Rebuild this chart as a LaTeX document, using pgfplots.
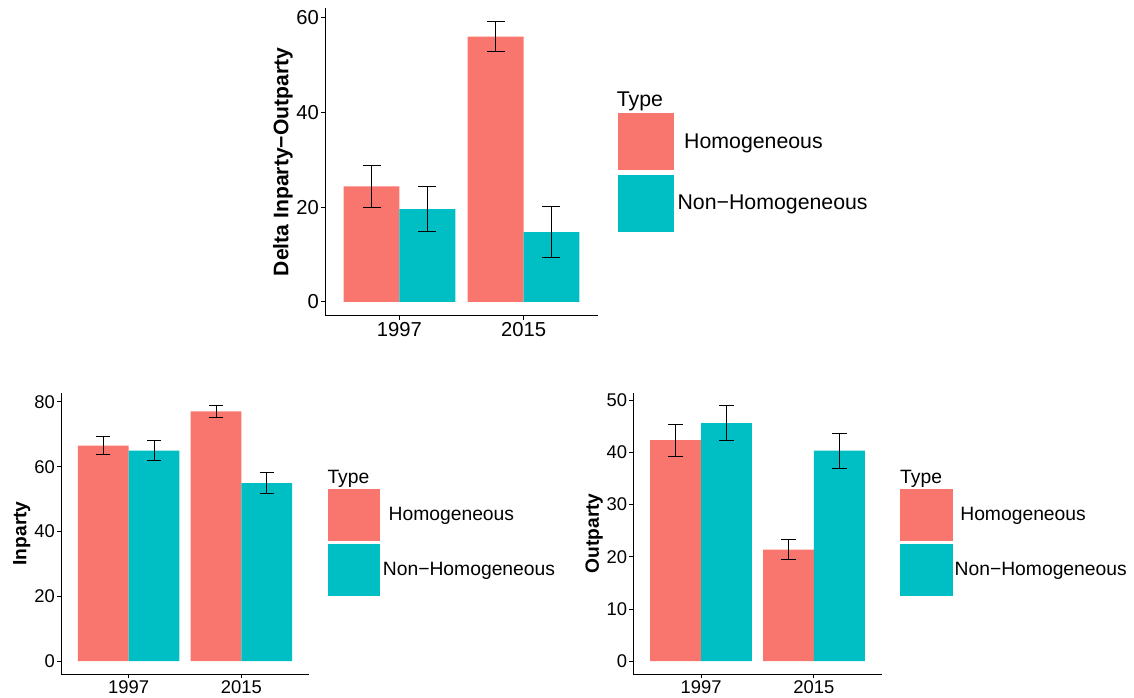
\documentclass[border=0pt]{standalone}
\usepackage{fontspec}
\setmainfont{Liberation Sans}
\usepackage{pgfplots}
\pgfplotsset{compat=1.18}
\definecolor{hom}{HTML}{F8766D}
\definecolor{non}{HTML}{00BFC4}
\pgfplotsset{
  gg/.style={
    scale only axis,
    axis x line*=bottom, axis y line*=left,
    axis line style={-, line width=1bp, black},
    xmin=0.4, xmax=2.6,
    xtick={1,2}, xticklabels={1997,2015},
    tick align=outside,
    major tick length=4bp,
    tick style={line width=1bp, black},
    clip=false,
    /pgf/number format/assume math mode=true,
    legend cell align=left,
  },
}
\begin{document}
\begin{tikzpicture}
\useasboundingbox (0,0) rectangle (1134bp,698bp);
% ---------------- top panel
\begin{axis}[gg,
  at={(325bp,382bp)}, anchor=south west,
  width=273bp, height=308bp,
  ymin=-2.96, ymax=62.1, ytick={0,20,40,60},
  ticklabel style={font=\fontsize{20.2bp}{24bp}\selectfont, inner sep=2bp},
  ylabel={Delta Inparty−Outparty},
  ylabel style={font=\bfseries\fontsize{21.1bp}{25bp}\selectfont, at={(axis description cs:-0.154,0.5)}, anchor=center},
  legend style={at={(axis description cs:1.0722,0.6581)}, anchor=north west, draw=none, fill=none,
    inner sep=0pt, row sep=4.7bp, nodes={inner sep=0pt}, font=\fontsize{21.3bp}{25bp}\selectfont},
]
\addplot[ybar, bar width=0.45, bar shift=0pt, fill=hom, draw=none,
  legend image code/.code={\fill[hom] (0bp,-28.35bp) rectangle (56.3bp,28.35bp);},
  error bars/.cd, y dir=both, y explicit,
  error bar style={line width=1bp, black},
  error mark options={rotate=90, line width=1bp, black, mark size=9bp}]
  coordinates {(0.775,24.4) +- (0,4.35) (1.775,56.05) +- (0,3.1)};
\addlegendentry{\hspace*{10bp}Homogeneous}
\addplot[ybar, bar width=0.45, bar shift=0pt, fill=non, draw=none,
  legend image code/.code={\fill[non] (0bp,-28.35bp) rectangle (56.3bp,28.35bp);},
  error bars/.cd, y dir=both, y explicit,
  error bar style={line width=1bp, black},
  error mark options={rotate=90, line width=1bp, black, mark size=9bp}]
  coordinates {(1.225,19.6) +- (0,4.73) (2.225,14.75) +- (0,5.35)};
\addlegendentry{\hspace*{3.4bp}Non−Homogeneous}
\end{axis}
\node[anchor=base west, inner sep=0pt, font=\fontsize{21.3bp}{25bp}\selectfont] at (616.7bp,591bp) {Type};
% ---------------- bottom left
\begin{axis}[gg,
  at={(61bp,24bp)}, anchor=south west,
  width=248bp, height=281.3bp,
  ymin=-3.95, ymax=82.85, ytick={0,20,40,60,80},
  ticklabel style={font=\fontsize{18.4bp}{22bp}\selectfont, inner sep=2bp},
  ylabel={Inparty},
  ylabel style={font=\bfseries\fontsize{19.2bp}{23bp}\selectfont, at={(axis description cs:-0.1585,0.5)}, anchor=center},
  legend style={at={(axis description cs:1.0778,0.6577)}, anchor=north west, draw=none, fill=none,
    inner sep=0pt, row sep=3.3bp, nodes={inner sep=0pt}, font=\fontsize{19.3bp}{23bp}\selectfont},
]
\addplot[ybar, bar width=0.45, bar shift=0pt, fill=hom, draw=none,
  legend image code/.code={\fill[hom] (0bp,-25.85bp) rectangle (51.7bp,25.85bp);},
  error bars/.cd, y dir=both, y explicit,
  error bar style={line width=1bp, black},
  error mark options={rotate=90, line width=1bp, black, mark size=7bp}]
  coordinates {(0.775,66.55) +- (0,2.65) (1.775,77.05) +- (0,1.85)};
\addlegendentry{\hspace*{8.4bp}Homogeneous}
\addplot[ybar, bar width=0.45, bar shift=0pt, fill=non, draw=none,
  legend image code/.code={\fill[non] (0bp,-25.85bp) rectangle (51.7bp,25.85bp);},
  error bars/.cd, y dir=both, y explicit,
  error bar style={line width=1bp, black},
  error mark options={rotate=90, line width=1bp, black, mark size=7bp}]
  coordinates {(1.225,65.0) +- (0,3.0) (2.225,54.95) +- (0,3.25)};
\addlegendentry{\hspace*{2.7bp}Non−Homogeneous}
\end{axis}
\node[anchor=base west, inner sep=0pt, font=\fontsize{19.3bp}{23bp}\selectfont] at (327.3bp,214.2bp) {Type};
% ---------------- bottom right
\begin{axis}[gg,
  at={(633.3bp,24bp)}, anchor=south west,
  width=248.4bp, height=281.3bp,
  ymin=-2.45, ymax=51.45, ytick={0,10,20,30,40,50},
  ticklabel style={font=\fontsize{18.4bp}{22bp}\selectfont, inner sep=2bp},
  ylabel={Outparty},
  ylabel style={font=\bfseries\fontsize{19.2bp}{23bp}\selectfont, at={(axis description cs:-0.158,0.5)}, anchor=center},
  legend style={at={(axis description cs:1.0737,0.6577)}, anchor=north west, draw=none, fill=none,
    inner sep=0pt, row sep=3.3bp, nodes={inner sep=0pt}, font=\fontsize{19.3bp}{23bp}\selectfont},
]
\addplot[ybar, bar width=0.45, bar shift=0pt, fill=hom, draw=none,
  legend image code/.code={\fill[hom] (0bp,-25.85bp) rectangle (52.3bp,25.85bp);},
  error bars/.cd, y dir=both, y explicit,
  error bar style={line width=1bp, black},
  error mark options={rotate=90, line width=1bp, black, mark size=7.5bp}]
  coordinates {(0.775,42.35) +- (0,3.05) (1.775,21.4) +- (0,1.9)};
\addlegendentry{\hspace*{7.8bp}Homogeneous}
\addplot[ybar, bar width=0.45, bar shift=0pt, fill=non, draw=none,
  legend image code/.code={\fill[non] (0bp,-25.85bp) rectangle (52.3bp,25.85bp);},
  error bars/.cd, y dir=both, y explicit,
  error bar style={line width=1bp, black},
  error mark options={rotate=90, line width=1bp, black, mark size=7.5bp}]
  coordinates {(1.225,45.6) +- (0,3.4) (2.225,40.35) +- (0,3.35)};
\addlegendentry{\hspace*{2.1bp}Non−Homogeneous}
\end{axis}
\node[anchor=base west, inner sep=0pt, font=\fontsize{19.3bp}{23bp}\selectfont] at (900bp,214.2bp) {Type};
\end{tikzpicture}
\end{document}
